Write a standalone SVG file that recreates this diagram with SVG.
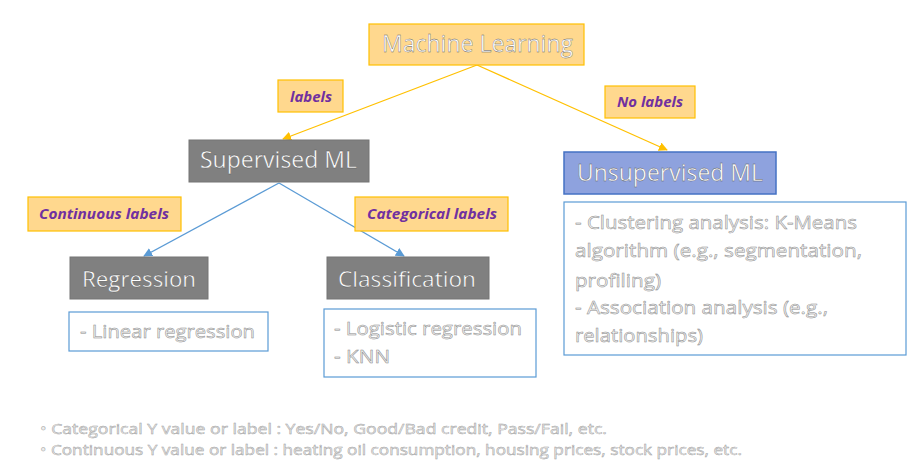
<svg xmlns="http://www.w3.org/2000/svg" width="916" height="472" viewBox="0 0 916 472">
<defs>
<marker id="arrO" viewBox="0 0 10 10" refX="9" refY="5" markerWidth="9" markerHeight="9" markerUnits="userSpaceOnUse" orient="auto"><path d="M0,0 L10,5 L0,10 z" fill="#ffc000"/></marker>
<marker id="arrB" viewBox="0 0 10 10" refX="9" refY="5" markerWidth="9" markerHeight="9" markerUnits="userSpaceOnUse" orient="auto"><path d="M0,0 L10,5 L0,10 z" fill="#5b9bd5"/></marker>
</defs>
<style>
.gold{fill:#ffd88e;stroke:#ffc000;stroke-width:1.2}
.gray{fill:#808080;stroke:#747474;stroke-width:1}
.blue{fill:#8ea2de;stroke:#4472c4;stroke-width:1.5}
.wbox{fill:#ffffff;stroke:#5b9bd5;stroke-width:1.2}
.t{font-family:"Open Sans","Liberation Sans",sans-serif;fill:#ffffff;stroke:#555;stroke-width:0.35}
.lbl{font-family:"Open Sans","Liberation Sans",sans-serif;font-weight:bold;font-style:italic;font-size:14px;fill:#7030a0}
.body{font-family:"Open Sans","Liberation Sans",sans-serif;font-size:19px;fill:#f2f2f2;stroke:#8a8a8a;stroke-width:0.5}
.foot{font-family:"Open Sans","Liberation Sans",sans-serif;font-size:14.5px;fill:#eeeeee;stroke:#a0a0a0;stroke-width:0.45}
.co{stroke:#ffc000;stroke-width:1.3;fill:none}
.cb{stroke:#5b9bd5;stroke-width:1.3;fill:none}
</style>
<g id="connectors">
<line class="co" x1="477" y1="65" x2="283" y2="139" marker-end="url(#arrO)"/>
<line class="co" x1="477" y1="65" x2="667" y2="150" marker-end="url(#arrO)"/>
<line class="cb" x1="279" y1="183" x2="144" y2="256" marker-end="url(#arrB)"/>
<line class="cb" x1="279" y1="183" x2="404" y2="256" marker-end="url(#arrB)"/>
</g>
<g id="ml"><rect class="gold" x="369" y="24" width="215" height="41"/><text class="t" x="382" y="52" font-size="24" textLength="191" lengthAdjust="spacingAndGlyphs">Machine Learning</text></g>
<g id="lbl-labels"><rect class="gold" x="278" y="80" width="65" height="32"/><text class="lbl" x="290" y="102" textLength="42" lengthAdjust="spacingAndGlyphs">labels</text></g>
<g id="lbl-nolabels"><rect class="gold" x="605" y="86" width="90" height="32"/><text class="lbl" x="617" y="107" textLength="66" lengthAdjust="spacingAndGlyphs">No labels</text></g>
<g id="supervised"><rect class="gray" x="189" y="140" width="180" height="42"/><text class="t" x="200" y="168" font-size="23" textLength="157" lengthAdjust="spacingAndGlyphs">Supervised ML</text></g>
<g id="unsupervised"><rect class="blue" x="564" y="152" width="212" height="42"/><text class="t" x="577" y="181" font-size="23" textLength="186" lengthAdjust="spacingAndGlyphs">Unsupervised ML</text></g>
<g id="unsup-text"><rect class="wbox" x="564" y="202" width="342" height="153"/>
<text class="body" x="575" y="229" textLength="282" lengthAdjust="spacingAndGlyphs">-  Clustering analysis: K-Means</text>
<text class="body" x="575" y="257" textLength="287" lengthAdjust="spacingAndGlyphs">algorithm (e.g., segmentation,</text>
<text class="body" x="575" y="287" textLength="86" lengthAdjust="spacingAndGlyphs">profiling)</text>
<text class="body" x="575" y="314" textLength="253" lengthAdjust="spacingAndGlyphs">-  Association analysis (e.g.,</text>
<text class="body" x="575" y="342" textLength="128" lengthAdjust="spacingAndGlyphs">relationships)</text>
</g>
<g id="lbl-continuous"><rect class="gold" x="28" y="197" width="153" height="34"/><text class="lbl" x="39" y="219" textLength="130" lengthAdjust="spacingAndGlyphs">Continuous labels</text></g>
<g id="lbl-categorical"><rect class="gold" x="355" y="197" width="153" height="34"/><text class="lbl" x="367" y="219" textLength="130" lengthAdjust="spacingAndGlyphs">Categorical labels</text></g>
<g id="regression"><rect class="gray" x="70" y="257" width="138" height="42"/><text class="t" x="82" y="287" font-size="22" textLength="114" lengthAdjust="spacingAndGlyphs">Regression</text></g>
<g id="classification"><rect class="gray" x="327" y="257" width="162" height="42"/><text class="t" x="338" y="287" font-size="22" textLength="138" lengthAdjust="spacingAndGlyphs">Classification</text></g>
<g id="linear"><rect class="wbox" x="69" y="312" width="199" height="39"/><text class="body" x="80" y="338" textLength="175" lengthAdjust="spacingAndGlyphs">- Linear regression</text></g>
<g id="logistic"><rect class="wbox" x="324" y="309" width="212" height="68"/>
<text class="body" x="334" y="335" textLength="188" lengthAdjust="spacingAndGlyphs">- Logistic regression</text>
<text class="body" x="334" y="363" textLength="56" lengthAdjust="spacingAndGlyphs">- KNN</text>
</g>
<g id="footnote">
<text class="foot" x="40" y="434" textLength="567" lengthAdjust="spacingAndGlyphs">• Categorical Y value or label : Yes/No, Good/Bad credit, Pass/Fail, etc.</text>
<text class="foot" x="40" y="455" textLength="702" lengthAdjust="spacingAndGlyphs">• Continuous Y value or label : heating oil consumption, housing prices, stock prices, etc.</text>
</g>
</svg>
